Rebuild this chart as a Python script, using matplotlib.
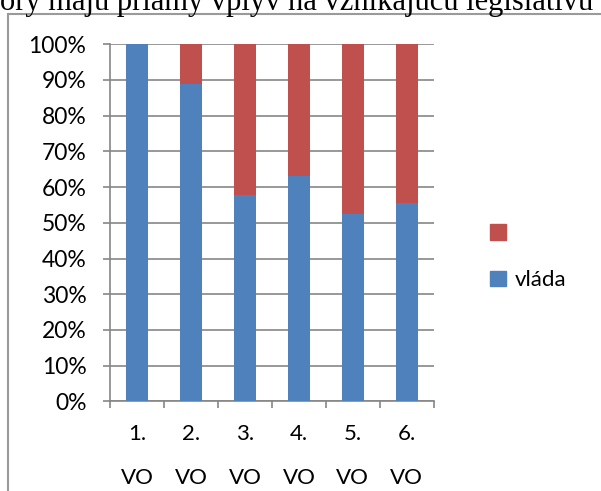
import numpy as np
import matplotlib
matplotlib.use("Agg")
from matplotlib import pyplot as plt
from matplotlib.patches import Patch, Rectangle
from matplotlib.ticker import FixedLocator, PercentFormatter


categories = ["1.\nVO", "2.\nVO", "3.\nVO", "4.\nVO", "5.\nVO", "6.\nVO"]
vlada = [100.0, 88.9, 57.7, 63.2, 52.4, 55.6]
ostatne = [100.0 - v for v in vlada]

BLUE = "#4F81BD"
RED = "#C0504D"
GRID = "#868686"

plt.rcParams["font.family"] = ["Lato", "DejaVu Sans"]

W, H = 601, 491
fig = plt.figure(figsize=(W / 100, H / 100), dpi=100)

# line of document text above the chart, cut by the page edge
fig.text(0 / W, 1 - 10 / H, "ory majú priamy vplyv na vznikajúcu legislatívu",
         family=["Liberation Serif"], fontsize=22, va="baseline", ha="left")

# chart frame
fig.patches.append(Rectangle((8 / W, -0.2), 1.2, 1 - 14 / H + 0.2,
                             transform=fig.transFigure, fill=False,
                             edgecolor="#9A9A9A", linewidth=1.5))

ax = fig.add_axes([110 / W, 1 - 401.3 / H, 323.8 / W, 357 / H])
x = np.arange(len(categories))
ax.bar(x, vlada, width=0.4, color=BLUE, zorder=3)
ax.bar(x, ostatne, width=0.4, bottom=vlada, color=RED, zorder=3)

ax.set_xlim(-0.5, len(categories) - 0.5)
ax.set_ylim(0, 100)
ax.yaxis.set_major_locator(FixedLocator(np.arange(0, 101, 10)))
ax.yaxis.set_major_formatter(PercentFormatter(decimals=0))
ax.grid(axis="y", color=GRID, linewidth=1.2, zorder=0)

ax.set_xticks(x)
ax.set_xticklabels(categories, linespacing=2.5)
ax.set_xticks(np.arange(-0.5, len(categories)), minor=True)
ax.tick_params(axis="x", which="major", length=0, pad=16, labelsize=16)
ax.tick_params(axis="x", which="minor", length=5, width=1.2, color=GRID)
ax.tick_params(axis="y", length=5, width=1.2, color=GRID, pad=12, labelsize=16.5)

for side in ("top", "right"):
    ax.spines[side].set_visible(False)
for side in ("left", "bottom"):
    ax.spines[side].set_color(GRID)
    ax.spines[side].set_linewidth(1.2)

handles = [Patch(color=RED, label=" "), Patch(color=BLUE, label="vláda")]
fig.legend(handles=handles, loc="center left",
           bbox_to_anchor=(470 / W, 1 - 257 / H), frameon=False,
           fontsize=16, handlelength=0.7, handleheight=0.7,
           handletextpad=0.4, labelspacing=1.2)

fig.savefig("out.png", dpi=100)
